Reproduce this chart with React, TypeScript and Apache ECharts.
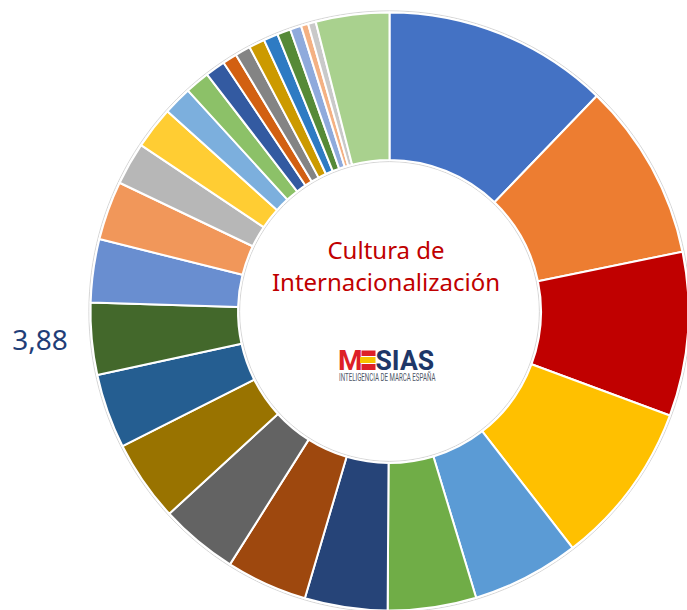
import React, { useEffect, useRef } from 'react';
import * as echarts from 'echarts';

// Slice categories (no names are shown in the picture), clockwise from 12 o'clock
const categories: string[] = [
  'Item 1', 'Item 2', 'Item 3', 'Item 4', 'Item 5', 'Item 6', 'Item 7',
  'Item 8', 'Item 9', 'Item 10', 'Item 11', 'Item 12', 'Item 13', 'Item 14',
  'Item 15', 'Item 16', 'Item 17', 'Item 18', 'Item 19', 'Item 20', 'Item 21',
  'Item 22', 'Item 23', 'Item 24', 'Item 25', 'Item 26', 'Item 27', 'Item 28',
];

// Values (percent shares)
const values: number[] = [
  12.19, 9.61, 8.86, 8.86, 5.81, 4.78, 4.47, 4.39, 4.22, 4.39, 4.03, 3.88,
  3.42, 3.19, 2.31, 2.28, 1.56, 1.33, 1.08, 0.78, 0.83, 0.86, 0.78, 0.72,
  0.61, 0.39, 0.42, 3.97,
];

const colors: string[] = [
  '#4472C4', '#ED7D31', '#C00000', '#FFC000', '#5B9BD5', '#70AD47',
  '#264478', '#9E480E', '#636363', '#997300', '#255E91', '#43682B',
  '#698ED0', '#F1975A', '#B7B7B7', '#FFCD33', '#7CAFDD', '#8CC168',
  '#335AA1', '#D26012', '#848484', '#CC9A00', '#2E7BC3', '#568A37',
  '#8FAADC', '#F4B183', '#C9C9C9', '#A9D18E',
];

// Only one data label is visible in the reference
const labelledSlice = 11;

const centerTitle: string[] = ['Cultura de', 'Internacionalización'];
const logoFirst = 'M';
const logoRest = 'SIAS';
const logoTagline = 'INTELIGENCIA DE MARCA ESPAÑA';

const fmt = (v: number) => v.toFixed(2).replace('.', ',');

export default function App() {
  const ref = useRef<HTMLDivElement>(null);

  useEffect(() => {
    if (!ref.current) return;
    const chart = echarts.init(ref.current, null, { renderer: 'svg' });
    const cx = 389.5;
    const cy = 311.5;
    const r0 = 151.5;
    const r1 = 299;

    chart.setOption({
      animation: false,
      backgroundColor: '#ffffff',
      graphic: [
        {
          type: 'circle',
          z: 0,
          silent: true,
          shape: { cx, cy, r: r1 + 1.6 },
          style: { fill: 'none', stroke: '#D6D6D6', lineWidth: 1 },
        },
        {
          type: 'circle',
          z: 0,
          silent: true,
          shape: { cx, cy, r: r0 - 1.6 },
          style: { fill: 'none', stroke: '#D6D6D6', lineWidth: 1 },
        },
        {
          type: 'text',
          x: 386,
          y: 249,
          silent: true,
          style: {
            text: centerTitle[0],
            fill: '#C00000',
            fontSize: 24,
            fontFamily: 'Noto Sans',
            textAlign: 'center',
            textVerticalAlign: 'middle',
          },
        },
        {
          type: 'text',
          x: 386,
          y: 281.5,
          silent: true,
          style: {
            text: centerTitle[1],
            fill: '#C00000',
            fontSize: 24,
            fontFamily: 'Noto Sans',
            textAlign: 'center',
            textVerticalAlign: 'middle',
          },
        },
        {
          type: 'text',
          x: 338,
          y: 360.5,
          silent: true,
          style: {
            text: logoFirst,
            fill: '#DD2027',
            fontSize: 28,
            fontWeight: 'bold',
            fontFamily: 'Roboto',
            textAlign: 'left',
            textVerticalAlign: 'middle',
          },
        },
        {
          type: 'rect',
          silent: true,
          shape: { x: 361.5, y: 350.5, width: 14, height: 5.5 },
          style: { fill: '#DD2027' },
        },
        {
          type: 'rect',
          silent: true,
          shape: { x: 360, y: 357, width: 15.5, height: 6 },
          style: { fill: '#F6C400' },
        },
        {
          type: 'rect',
          silent: true,
          shape: { x: 361.5, y: 364, width: 14, height: 6 },
          style: { fill: '#DD2027' },
        },
        {
          type: 'text',
          x: 375.5,
          y: 360.5,
          scaleX: 0.95,
          silent: true,
          style: {
            text: logoRest,
            fill: '#1E3768',
            fontSize: 28,
            fontWeight: 'bold',
            fontFamily: 'Roboto',
            textAlign: 'left',
            textVerticalAlign: 'middle',
          },
        },
        {
          type: 'text',
          x: 339,
          y: 377.5,
          scaleX: 0.56,
          silent: true,
          style: {
            text: logoTagline,
            fill: '#4F5768',
            fontSize: 11,
            fontFamily: 'Roboto',
            textAlign: 'left',
            textVerticalAlign: 'middle',
          },
        },
      ],
      series: [
        {
          type: 'pie',
          z: 2,
          center: [cx, cy],
          radius: [r0, r1],
          startAngle: 90,
          clockwise: true,
          avoidLabelOverlap: false,
          silent: true,
          emphasis: { disabled: true },
          itemStyle: { borderColor: '#ffffff', borderWidth: 2 },
          label: { show: false },
          labelLine: { show: false, length: 0, length2: 19 },
          data: values.map((v, i) => ({
            name: categories[i],
            value: v,
            itemStyle: { color: colors[i] },
            label:
              i === labelledSlice
                ? {
                    show: true,
                    position: 'outside',
                    formatter: (p: any) => fmt(p.value),
                    fontSize: 28,
                    fontFamily: 'Noto Sans',
                    color: '#1F3E78',
                    padding: [0, 0, 4, 0],
                  }
                : { show: false },
          })),
        },
      ],
    });

    return () => chart.dispose();
  }, []);

  return (
    <div
      ref={ref}
      style={{ position: 'absolute', left: 0, top: 0, width: 687, height: 610 }}
    />
  );
}
